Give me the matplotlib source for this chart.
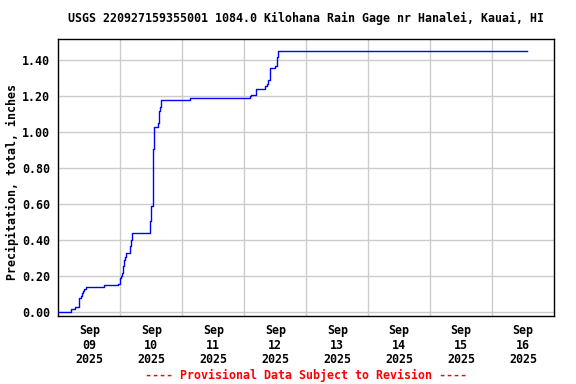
import matplotlib
matplotlib.use("Agg")
import matplotlib.pyplot as plt
from matplotlib.ticker import FixedLocator, NullFormatter, FixedFormatter

# Data: days since 2025-09-09 00:00 and cumulative precipitation (inches)
days = [0.00, 0.21, 0.27, 0.34, 0.36, 0.38, 0.40, 0.42, 0.44, 0.73, 0.97, 0.99,
        1.01, 1.03, 1.05, 1.06, 1.08, 1.10, 1.16, 1.17, 1.19, 1.48, 1.50, 1.52,
        1.53, 1.55, 1.61, 1.63, 1.64, 1.66, 2.13, 3.09, 3.11, 3.19, 3.34, 3.36,
        3.39, 3.42, 3.50, 3.52, 3.53, 3.55, 7.56]
precip = [0.00, 0.02, 0.03, 0.08, 0.09, 0.11, 0.12, 0.13, 0.14, 0.15, 0.16, 0.19,
          0.20, 0.22, 0.26, 0.29, 0.31, 0.33, 0.37, 0.40, 0.44, 0.51, 0.59, 0.75,
          0.91, 1.03, 1.05, 1.12, 1.14, 1.18, 1.19, 1.20, 1.21, 1.24, 1.26, 1.27,
          1.29, 1.36, 1.37, 1.41, 1.42, 1.45, 1.45]

tick_labels = ["Sep\n09\n2025", "Sep\n10\n2025", "Sep\n11\n2025", "Sep\n12\n2025",
               "Sep\n13\n2025", "Sep\n14\n2025", "Sep\n15\n2025", "Sep\n16\n2025"]
y_ticks = [0.0, 0.2, 0.4, 0.6, 0.8, 1.0, 1.2, 1.4]

title = "USGS 220927159355001 1084.0 Kilohana Rain Gage nr Hanalei, Kauai, HI"
ylabel = "Precipitation, total, inches"
footer = "---- Provisional Data Subject to Revision ----"

font = {"family": "DejaVu Sans Mono", "weight": "bold", "size": 8.35}

fig = plt.figure(figsize=(5.76, 3.84), dpi=100)
ax = fig.add_axes([0.1012, 0.177, 0.861, 0.7205])

ax.step(days, precip, where="post", color="#0000ff", linewidth=1.0, zorder=3)

ax.set_xlim(0, 8)
ax.set_ylim(-0.0206, 1.517)

# gridlines at midnight, labels at noon
ax.xaxis.set_major_locator(FixedLocator(list(range(1, 8))))
ax.xaxis.set_major_formatter(NullFormatter())
ax.xaxis.set_minor_locator(FixedLocator([i + 0.5 for i in range(len(tick_labels))]))
ax.xaxis.set_minor_formatter(FixedFormatter(tick_labels))
ax.set_yticks(y_ticks)
ax.set_yticklabels(["%.2f" % v for v in y_ticks])

ax.grid(True, which="major", color="#cccccc", linewidth=1.0, zorder=0)
ax.tick_params(axis="both", which="both", length=0)
ax.tick_params(axis="x", which="minor", pad=6)
ax.tick_params(axis="y", pad=6)

for lbl in ax.get_xticklabels(minor=True) + ax.get_yticklabels():
    lbl.set_fontfamily(font["family"])
    lbl.set_fontweight("bold")
    lbl.set_fontsize(font["size"])
for lbl in ax.get_xticklabels(minor=True):
    lbl.set_linespacing(1.15)

for s in ax.spines.values():
    s.set_color("black")
    s.set_linewidth(1.0)

fig.text(0.5 * (0.1012 + 0.9623), 1 - 18.5 / 384, title, ha="center", va="center",
         fontfamily=font["family"], fontweight="bold", fontsize=font["size"])
fig.text(12 / 576, 1 - 182 / 384, ylabel, ha="center", va="center", rotation=90,
         fontfamily=font["family"], fontweight="bold", fontsize=font["size"])
fig.text(0.5 * (0.1012 + 0.9623), 1 - 375.5 / 384, footer, ha="center", va="center",
         color="#ff0000", fontfamily=font["family"], fontweight="bold", fontsize=font["size"])

fig.savefig("out.png", dpi=100)
